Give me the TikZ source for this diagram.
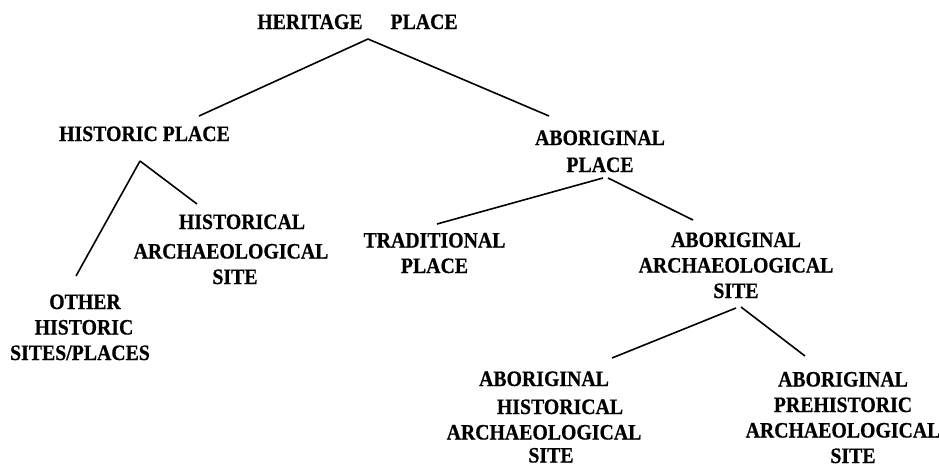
\documentclass[tikz,border=0pt]{standalone}
\usepackage{fontspec}
\newfontfamily\lblfont[FakeStretch=0.9,FakeBold=0.6]{Liberation Serif}
\begin{document}
\begin{tikzpicture}[x=1pt,y=-1pt,
  lbl/.style={font=\lblfont\bfseries\fontsize{22}{25.5}\selectfont, align=center, inner sep=0pt, anchor=base},
  conn/.style={line width=1.6pt, line cap=butt}]
\useasboundingbox (0,0) rectangle (939,466);
% nodes (position = centre x, baseline y of last line)
\node[lbl] (hp)   at (357.5,29) {HERITAGE\hspace{28pt}PLACE};
\node[lbl] (hist) at (144.5,141) {HISTORIC PLACE};
\node[lbl] (abp)  at (600,172) {ABORIGINAL\\[1.5pt]PLACE};
\node[lbl] (ha)   at (231,284) {\hspace*{22pt}HISTORICAL\\[4pt]ARCHAEOLOGICAL\\\hspace*{8pt}SITE};
\node[lbl] (oth)  at (80,360) {\hspace*{10pt}OTHER\\\hspace*{8pt}HISTORIC\\SITES/PLACES};
\node[lbl] (trad) at (434.5,273) {TRADITIONAL\\PLACE};
\node[lbl] (aa)   at (736,298) {ABORIGINAL\\ARCHAEOLOGICAL\\SITE};
\node[lbl] (ah)   at (544,462.5) {ABORIGINAL\\[2.5pt]\hspace*{32pt}HISTORICAL\\ARCHAEOLOGICAL\\[-2.5pt]\hspace*{14pt}SITE};
\node[lbl] (ap)   at (843,463) {ABORIGINAL\\PREHISTORIC\\ARCHAEOLOGICAL\\[0pt]\hspace*{20pt}SITE};
% connector end points
\coordinate (hp-b)   at (368,39);
\coordinate (hist-t) at (199,116);
\coordinate (abp-t)  at (549,116);
\coordinate (hist-b) at (140,161);
\coordinate (oth-t)  at (76,276);
\coordinate (ha-t)   at (197,204);
\coordinate (abp-bl) at (603,178);
\coordinate (abp-br) at (608,178);
\coordinate (trad-t) at (437,224);
\coordinate (aa-t)   at (693,220);
\coordinate (aa-bl)  at (736,308);
\coordinate (aa-br)  at (741,307);
\coordinate (ah-t)   at (612,358);
\coordinate (ap-t)   at (805,356);
% connectors
\draw[conn] (hp-b) -- (hist-t);
\draw[conn] (hp-b) -- (abp-t);
\draw[conn] (hist-b) -- (oth-t);
\draw[conn] (hist-b) -- (ha-t);
\draw[conn] (abp-bl) -- (trad-t);
\draw[conn] (abp-br) -- (aa-t);
\draw[conn] (aa-bl) -- (ah-t);
\draw[conn] (aa-br) -- (ap-t);
\end{tikzpicture}
\end{document}
